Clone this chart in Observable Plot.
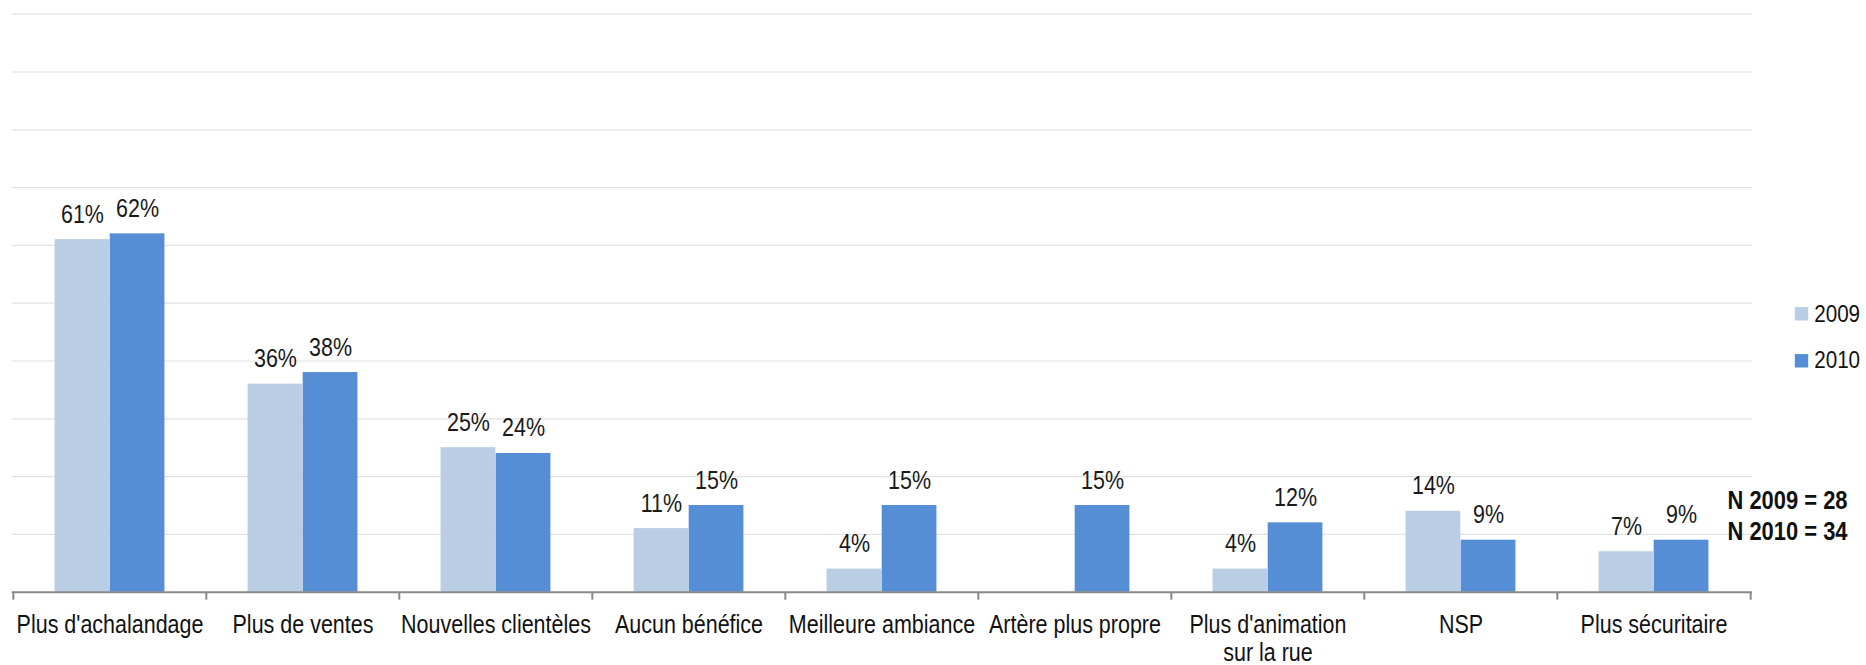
<!DOCTYPE html>
<html>
<head>
<meta charset="utf-8">
<script src="https://cdn.jsdelivr.net/npm/d3@7"></script>
<script src="https://cdn.jsdelivr.net/npm/@observablehq/plot@0.6"></script>
<style>
  html, body { margin: 0; padding: 0; background: #fff; }
  #chart svg { display: block; }
</style>
</head>
<body>
<div id="chart"></div>
<script>
const categories = [
  "Plus d'achalandage", "Plus de ventes", "Nouvelles clientèles", "Aucun bénéfice",
  "Meilleure ambiance", "Artère plus propre", "Plus d'animation\nsur la rue", "NSP", "Plus sécuritaire"
];
const years = ["2009", "2010"];
const values2009 = [61, 36, 25, 11, 4, null, 4, 14, 7];
const values2010 = [62, 38, 24, 15, 15, 15, 12, 9, 9];
const sampleSizes = [28, 34];
const yTicks = [10, 20, 30, 40, 50, 60, 70, 80, 90, 100];

const colors = {"2009": "#b9cde5", "2010": "#558ed5"};
const font = "'Liberation Sans', Arial, sans-serif";
const narrow = 0.86; // horizontal condensing of text (Arial Narrow look)

const W = 1866, H = 665;
const mL = 11.7, mR = 114, mT = 13.7, mB = 73.3;
const step = (W - mL - mR) / categories.length;
const barW = step * 0.285;
const plotH = H - mT - mB;

const rows = [];
categories.forEach((c, i) => {
  rows.push({category: c, year: "2009", value: values2009[i]});
  rows.push({category: c, year: "2010", value: values2010[i]});
});
const r09 = rows.filter(d => d.year === "2009" && d.value != null);
const r10 = rows.filter(d => d.year === "2010" && d.value != null);

const legendMarks = [];
years.forEach((y, i) => {
  legendMarks.push(Plot.dot([y], {frameAnchor: "top-right", dx: 49, dy: 299.6 + i * 47, symbol: "square", r: 7.56, fill: colors[y], stroke: null}));
  legendMarks.push(Plot.text([y], {frameAnchor: "top-right", dx: 61.7, dy: 307.3 + i * 46.3, text: d => d, textAnchor: "start", lineAnchor: "bottom", fontSize: 24, fill: "#111"}));
  legendMarks.push(Plot.text([y], {frameAnchor: "top-right", dx: -25, dy: 494.6 + i * 30.7, text: d => `N ${d} = ${sampleSizes[i]}`, textAnchor: "start", lineAnchor: "bottom", fontSize: 25.5, fontWeight: "bold", fill: "#111"}));
});

const chart = Plot.plot({
  width: W, height: H,
  marginLeft: mL, marginRight: mR, marginTop: mT, marginBottom: mB,
  style: {fontFamily: font, background: "#fff"},
  x: {type: "band", domain: categories, padding: 0, label: null},
  y: {domain: [0, 100], label: null, axis: null},
  marks: [
    Plot.ruleY(yTicks, {stroke: "#e2e2e2", strokeWidth: 1.2}),
    Plot.barY(r09, {x: "category", y: "value", fill: colors["2009"], insetLeft: step / 2 - barW, insetRight: step / 2}),
    Plot.barY(r10, {x: "category", y: "value", fill: colors["2010"], insetLeft: step / 2, insetRight: step / 2 - barW}),
    Plot.text(r09, {x: "category", y: "value", text: d => d.value + "%", dx: -barW / 2, dy: -17, lineAnchor: "bottom", fontSize: 25, fill: "#1a1a1a"}),
    Plot.text(r10, {x: "category", y: "value", text: d => d.value + "%", dx: barW / 2, dy: -17, lineAnchor: "bottom", fontSize: 25, fill: "#1a1a1a"}),
    Plot.ruleY([0], {stroke: "#898989", strokeWidth: 2}),
    Plot.ruleX(categories, {x: d => d, dx: -step / 2, insetTop: plotH, insetBottom: -8, stroke: "#898989", strokeWidth: 2}),
    Plot.ruleX(categories.slice(-1), {x: d => d, dx: step / 2, insetTop: plotH, insetBottom: -8, stroke: "#898989", strokeWidth: 2}),
    Plot.axisX({tickSize: 0, tickPadding: 21, fontSize: 25, lineHeight: 1.12, fill: "#111", label: null}),
    ...legendMarks
  ]
});

// condense glyphs horizontally around each text's anchor point
chart.querySelectorAll("text").forEach(t => {
  const x = t.getAttribute("x");
  let tr = t.getAttribute("transform") || "";
  if (x != null && !isNaN(+x)) {
    tr = `translate(${x},0) ` + tr;
    t.removeAttribute("x");
  }
  t.setAttribute("transform", (tr + ` scale(${narrow},1)`).trim());
});

document.getElementById("chart").appendChild(chart);
</script>
</body>
</html>
